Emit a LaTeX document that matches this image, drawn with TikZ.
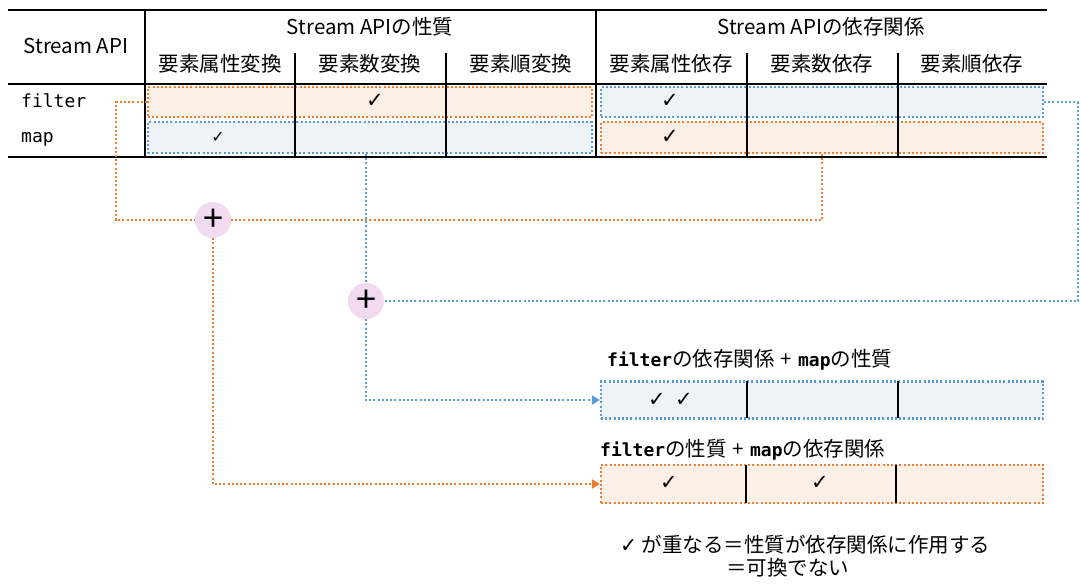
\documentclass[tikz,border=0pt]{standalone}
\usepackage{fontspec}
\setmainfont{Noto Sans CJK JP}
\newfontfamily\monof{DejaVu Sans Mono}
\newfontfamily\symf{DejaVu Sans}
\usetikzlibrary{arrows.meta,calc}
\definecolor{orn}{HTML}{ED7D31}
\definecolor{blu}{HTML}{5B9BD5}
\definecolor{ornfill}{HTML}{FBEFE6}
\definecolor{blufill}{HTML}{EEF3FA}
\definecolor{pinkfill}{HTML}{F2DAF0}
\tikzset{
  dotline/.style={line width=2.1pt, dash pattern=on 2pt off 2.2pt},
  obox/.style={draw=orn, fill=ornfill, dotline, inner sep=0pt, minimum width=442pt},
  bbox/.style={draw=blu, fill=blufill, dotline, inner sep=0pt, minimum width=442pt},
  tline/.style={line width=2pt, black},
  cjk/.style={font=\fontsize{20.5}{24}\selectfont, inner sep=0pt},
  mono/.style={font=\monof\fontsize{18}{22}\selectfont, inner sep=0pt},
  chk/.style={font=\symf\fontsize{21}{24}\selectfont, inner sep=0pt},
  ocon/.style={draw=orn, dotline},
  bcon/.style={draw=blu, dotline},
  tip/.style={-{Triangle[length=8pt,width=9pt,fill=#1]}},
  plusc/.style={circle, fill=pinkfill, minimum size=36pt, inner sep=0pt, font=\fontsize{36}{36}\selectfont},
}
\newcommand{\mb}[1]{{\monof\bfseries\fontsize{18}{22}\selectfont #1}}
\begin{document}
\begin{tikzpicture}[x=1pt,y=-1pt]
\useasboundingbox (0,0) rectangle (1081,584);
% dotted row boxes
\node[obox, minimum height=30pt, minimum width=444pt] (fprop) at (370,102) {};
\node[bbox, minimum height=31pt, minimum width=444pt] (mprop) at (370,137.5) {};
\node[bbox, minimum height=30pt] (fdep) at (822,102) {};
\node[obox, minimum height=31pt] (mdep) at (822,137.5) {};
% table lines
\draw[tline] (8,10) -- (1047,10);
\draw[line width=2.5pt] (8,84) -- (1047,84);
\draw[tline] (8,157) -- (1047,157);
\draw[tline] (145,10) -- (145,157);
\draw[tline] (596,10) -- (596,157);
\foreach \x in {295,446,747,898} \draw[tline] (\x,53) -- (\x,157);
% headers
\node[cjk] (hapi) at (76,46) {Stream API};
\node[cjk] (hprop) at (370,27) {Stream APIの性質};
\node[cjk] (hdep) at (821,27) {Stream APIの依存関係};
\node[cjk] (h1) at (220,64) {要素属性変換};
\node[cjk] (h2) at (370,64) {要素数変換};
\node[cjk] (h3) at (521,64) {要素順変換};
\node[cjk] (h4) at (671,64) {要素属性依存};
\node[cjk] (h5) at (822,64) {要素数依存};
\node[cjk] (h6) at (972,64) {要素順依存};
\node[mono, anchor=west] (lf) at (21,101) {filter};
\node[mono, anchor=west] (lm) at (21,139) {map};
% checks
\node[chk] (c1) at (375,101) {✓};
\node[chk, font=\symf\fontsize{16}{18}\selectfont] (c2) at (218,137) {✓};
\node[chk] (c3) at (670,101) {✓};
\node[chk] (c4) at (670,137) {✓};
% plus nodes
\node[plusc] (plus1) at (213,220) {+};
\node[plusc] (plus2) at (366,301) {+};
% result boxes
\node[bbox, minimum height=37pt] (res1) at (822,400) {};
\node[obox, minimum height=38pt] (res2) at (822,484) {};
\draw[tline] (747,381) -- (747,418);
\draw[tline] (898,381) -- (898,418);
\draw[tline] (746,465) -- (746,503);
\draw[tline] (896,465) -- (896,503);
\node[chk] (r1) at (657,400) {✓};
\node[chk] (r2) at (684,400) {✓};
\node[chk] (r3) at (669,483) {✓};
\node[chk] (r4) at (820,483) {✓};
\node[cjk, anchor=west] (lab1) at (607,360) {\mb{filter}の依存関係\hspace{6pt}+\hspace{6pt}\mb{map}の性質};
\node[cjk, anchor=west] (lab2) at (600,450) {\mb{filter}の性質\hspace{6pt}+\hspace{6pt}\mb{map}の依存関係};
% note
\node[cjk, anchor=west] (n1) at (620,545) {{\symf ✓} が重なる＝性質が依存関係に作用する};
\node[cjk, anchor=west] (n2) at (726,568) {＝可換でない};
% connectors
\coordinate (k1) at (116,102);
\coordinate (k2) at (1078,102);
\draw[ocon] (fprop.west) -- (k1) |- (plus1.west);
\draw[ocon] (mdep.south) |- (plus1.east);
\draw[ocon, tip=orn] (plus1.south) |- (res2.west);
\draw[bcon] (fdep.east) -- (k2) |- (plus2.east);
\draw[bcon] (mprop.south -| plus2.north) -- (plus2.north);
\draw[bcon, tip=blu] (plus2.south) |- (res1.west);
\end{tikzpicture}
\end{document}
